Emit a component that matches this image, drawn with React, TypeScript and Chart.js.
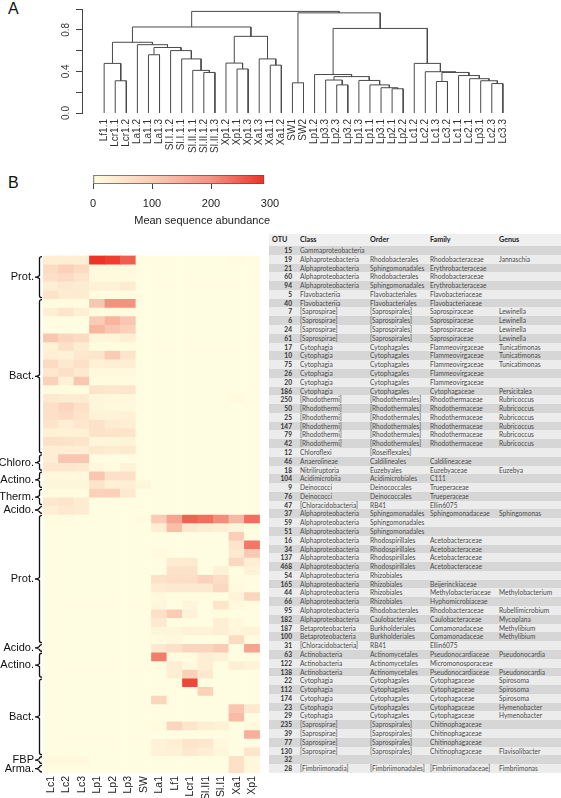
import React, { useEffect, useRef } from 'react';
import { Chart, registerables } from 'chart.js';
Chart.register(...registerables);

// ---------- Dendrogram (panel A) ----------
const leafLabels = [
  'Lf1.1', 'Lcr1.1', 'Lcr1.2', 'La1.2', 'La1.1', 'La1.3', 'Sl.I.1.2', 'Sl.I.1.1', 'Sl.II.1.1', 'Sl.II.1.2',
  'Sl.II.1.3', 'Xp1.2', 'Xp1.1', 'Xp1.3', 'Xa1.3', 'Xa1.1', 'Xa1.2', 'SW1', 'SW2', 'Lp1.2', 'Lp3.3',
  'Lp2.3', 'Lp3.2', 'Lp1.3', 'Lp1.1', 'Lp3.1', 'Lp2.1', 'Lp2.2', 'Lc1.2', 'Lc2.2', 'Lc1.3', 'Lc3.2',
  'Lc1.1', 'Lc2.1', 'Lp3.1', 'Lc2.3', 'Lc3.3',
];
// R-style merges: negative = leaf (1-based), positive = earlier merge (1-based); third = height
const merges: [number, number, number][] = [
  [-2, -3, 0.31], [-1, 1, 0.477], [-5, -6, 0.56], [-10, -11, 0.39], [-9, 4, 0.41], [-8, 5, 0.52],
  [-7, 6, 0.6], [3, 7, 0.63], [-4, 8, 0.657], [2, 9, 0.68], [-13, -14, 0.423], [-12, 11, 0.48],
  [-16, -17, 0.46], [-15, 13, 0.52], [12, 14, 0.737], [10, 15, 0.827], [-18, -19, 0.29],
  [-22, -23, 0.27], [-21, 18, 0.317], [-27, -28, 0.233], [-26, 20, 0.243], [-25, 21, 0.27],
  [-24, 22, 0.313], [19, 23, 0.35], [-20, 24, 0.37], [-31, -32, 0.303], [-36, -37, 0.283],
  [-35, 27, 0.31], [-34, 28, 0.33], [-33, 29, 0.36], [26, 30, 0.39], [-30, 31, 0.397],
  [-29, 32, 0.477], [25, 33, 0.813], [17, 34, 0.963], [16, 35, 0.977],
];
const dendroTicks = [0, 0.2, 0.4, 0.6, 0.8, 1.0];
const dendroLabelled = ['0.0', '0.4', '0.8'];

// ---------- Heatmap (panel B) ----------
const sampleCols = ['Lc1', 'Lc2', 'Lc3', 'Lp1', 'Lp2', 'Lp3', 'SW', 'La1', 'Lf1', 'Lcr1', 'Sl.II1', 'Sl.I1', 'Xa1', 'Xp1'];
const groupNames = ['Prot.', 'Bact.', 'Chloro.', 'Actino.', 'Therm.', 'Acido.', 'Prot.', 'Acido.', 'Actino.', 'Bact.', 'FBP', 'Arma.'];
const groupSizes = [5, 18, 2, 2, 2, 1, 15, 1, 3, 9, 1, 1];
// columns: Lc1 Lc2 Lc3 Lp1 Lp2 Lp3 SW La1 Lf1 Lcr1 Sl.II1 Sl.I1 Xa1 Xp1
const abundance: number[][] = [
  [30, 30, 30, 290, 280, 250, 3, 3, 0, 0, 0, 0, 5, 0],
  [70, 90, 70, 8, 8, 8, 0, 0, 0, 0, 0, 0, 0, 0],
  [60, 70, 50, 8, 8, 8, 0, 0, 0, 0, 0, 0, 0, 0],
  [30, 40, 35, 25, 25, 35, 0, 0, 0, 0, 0, 0, 0, 0],
  [55, 35, 35, 5, 5, 5, 0, 0, 0, 0, 0, 0, 0, 0],
  [5, 5, 5, 110, 200, 200, 0, 0, 0, 0, 0, 0, 0, 0],
  [30, 50, 30, 5, 5, 5, 0, 0, 0, 0, 0, 0, 0, 0],
  [0, 0, 0, 100, 140, 110, 0, 0, 0, 0, 0, 0, 0, 0],
  [0, 0, 0, 140, 110, 90, 0, 0, 0, 0, 0, 0, 0, 0],
  [110, 80, 70, 15, 15, 30, 0, 0, 0, 0, 0, 0, 0, 0],
  [25, 60, 35, 5, 5, 5, 0, 0, 0, 0, 0, 0, 0, 0],
  [30, 25, 45, 50, 100, 50, 0, 0, 0, 0, 0, 0, 0, 0],
  [70, 40, 60, 25, 30, 30, 0, 0, 0, 0, 0, 0, 0, 0],
  [45, 60, 40, 10, 10, 10, 0, 0, 0, 0, 0, 0, 0, 0],
  [90, 25, 110, 5, 5, 5, 0, 0, 0, 0, 0, 0, 0, 0],
  [5, 5, 5, 50, 45, 50, 0, 0, 0, 0, 0, 0, 0, 0],
  [40, 35, 35, 15, 10, 10, 0, 0, 0, 0, 0, 0, 8, 0],
  [60, 80, 60, 15, 10, 10, 0, 0, 0, 0, 0, 0, 0, 0],
  [60, 70, 50, 25, 20, 25, 0, 0, 0, 0, 0, 0, 0, 0],
  [50, 30, 45, 55, 35, 30, 0, 0, 0, 0, 0, 0, 0, 0],
  [25, 25, 25, 55, 50, 50, 0, 0, 0, 0, 0, 0, 0, 0],
  [60, 55, 50, 15, 15, 20, 0, 0, 0, 0, 0, 0, 0, 0],
  [30, 30, 30, 40, 35, 40, 0, 0, 0, 0, 0, 0, 0, 0],
  [30, 110, 110, 0, 0, 0, 0, 0, 0, 0, 0, 0, 0, 0],
  [45, 45, 40, 10, 5, 20, 0, 0, 0, 0, 0, 0, 0, 0],
  [10, 10, 10, 110, 60, 60, 0, 0, 0, 0, 0, 0, 0, 0],
  [15, 15, 15, 50, 25, 30, 15, 0, 0, 0, 0, 0, 0, 0],
  [5, 5, 5, 90, 90, 40, 0, 0, 0, 0, 0, 0, 0, 0],
  [45, 50, 35, 0, 0, 0, 0, 0, 0, 0, 0, 0, 0, 0],
  [30, 40, 35, 0, 0, 0, 0, 0, 0, 0, 0, 0, 0, 0],
  [5, 5, 0, 0, 0, 0, 5, 100, 170, 245, 235, 205, 135, 235],
  [0, 0, 0, 0, 0, 0, 0, 30, 125, 40, 32, 28, 15, 5],
  [0, 0, 0, 0, 0, 0, 0, 0, 0, 0, 0, 0, 95, 0],
  [0, 0, 0, 0, 0, 0, 0, 0, 0, 0, 0, 0, 50, 225],
  [0, 0, 0, 0, 0, 0, 0, 8, 0, 0, 0, 0, 40, 105],
  [0, 0, 0, 0, 0, 0, 0, 0, 35, 38, 0, 0, 75, 30],
  [0, 0, 0, 0, 0, 0, 0, 0, 55, 55, 3, 25, 0, 22],
  [0, 0, 0, 0, 0, 0, 0, 55, 65, 65, 85, 65, 5, 0],
  [0, 0, 0, 0, 0, 0, 0, 35, 40, 40, 40, 75, 8, 0],
  [0, 0, 0, 0, 0, 0, 0, 10, 5, 5, 5, 0, 20, 80],
  [0, 0, 0, 0, 0, 0, 0, 15, 0, 15, 0, 50, 10, 5],
  [0, 0, 0, 0, 0, 0, 0, 60, 100, 20, 0, 5, 0, 0],
  [0, 0, 0, 0, 0, 0, 0, 40, 0, 0, 0, 30, 10, 0],
  [0, 0, 0, 0, 0, 0, 0, 15, 15, 20, 20, 30, 15, 20],
  [0, 0, 0, 0, 0, 0, 0, 5, 10, 0, 0, 0, 70, 5],
  [0, 0, 0, 0, 0, 0, 0, 40, 60, 80, 80, 100, 0, 170],
  [0, 0, 0, 0, 0, 0, 0, 220, 5, 5, 30, 20, 0, 5],
  [0, 0, 0, 0, 0, 0, 0, 5, 30, 10, 30, 0, 30, 20],
  [0, 0, 0, 0, 0, 0, 0, 0, 30, 90, 40, 0, 0, 0],
  [0, 0, 0, 0, 0, 0, 0, 0, 0, 270, 0, 0, 0, 0],
  [0, 0, 0, 0, 0, 0, 0, 0, 0, 0, 90, 0, 0, 0],
  [0, 0, 0, 0, 0, 0, 0, 80, 0, 0, 0, 0, 0, 0],
  [0, 0, 0, 0, 0, 0, 0, 0, 0, 0, 0, 0, 110, 40],
  [0, 0, 0, 0, 0, 0, 0, 0, 0, 0, 0, 0, 130, 0],
  [0, 0, 0, 0, 0, 0, 0, 5, 80, 50, 30, 25, 0, 10],
  [0, 0, 0, 0, 0, 0, 0, 0, 0, 0, 0, 0, 0, 150],
  [0, 0, 0, 0, 0, 0, 0, 20, 30, 50, 45, 10, 0, 0],
  [0, 0, 0, 0, 0, 0, 0, 20, 25, 40, 30, 15, 0, 50],
  [10, 10, 10, 0, 0, 0, 0, 0, 0, 0, 0, 0, 60, 10],
  [0, 0, 0, 0, 0, 0, 0, 0, 0, 0, 0, 0, 60, 10],
];

// ---------- Colour scale ----------
const scaleTicks = [0, 100, 200, 300];
const scaleMax = 290;
const paletteValues = [0, 100, 200, 290];
const paletteRGB: [number, number, number][] = [[255, 253, 225], [250, 204, 182], [244, 146, 128], [238, 50, 38]];

// ---------- Table ----------
const otuIds = [15, 19, 21, 60, 94, 5, 40, 7, 6, 24, 61, 17, 10, 75, 26, 20, 186, 250, 50, 25, 147, 79, 42, 12, 46, 18, 104, 9, 76, 47,
  37, 59, 51, 16, 34, 137, 468, 54, 165, 44, 66, 95, 182, 187, 100, 31, 63, 122, 138, 22, 112, 174, 23, 29, 235, 39, 77, 130, 32, 28];
const A = 'Alphaproteobacteria';
const otuClass = ['Gammaproteobacteria', A, A, A, A, 'Flavobacteriia', 'Flavobacteriia', '[Saprospirae]', '[Saprospirae]', '[Saprospirae]',
  '[Saprospirae]', 'Cytophagia', 'Cytophagia', 'Cytophagia', 'Cytophagia', 'Cytophagia', 'Cytophagia', '[Rhodothermi]', '[Rhodothermi]',
  '[Rhodothermi]', '[Rhodothermi]', '[Rhodothermi]', '[Rhodothermi]', 'Chloroflexi', 'Anaerolineae', 'Nitriliruptoria', 'Acidimicrobiia',
  'Deinococci', 'Deinococci', '[Chloracidobacteria]', A, A, A, A, A, A, A, A, A, A, A, A, A, 'Betaproteobacteria', 'Betaproteobacteria',
  '[Chloracidobacteria]', 'Actinobacteria', 'Actinobacteria', 'Actinobacteria', 'Cytophagia', 'Cytophagia', 'Cytophagia', 'Cytophagia',
  'Cytophagia', '[Saprospirae]', '[Saprospirae]', '[Saprospirae]', '[Saprospirae]', '', '[Fimbriimonadia]'];
const otuOrder = ['', 'Rhodobacterales', 'Sphingomonadales', 'Rhodobacterales', 'Sphingomonadales', 'Flavobacteriales', 'Flavobacteriales',
  '[Saprospirales]', '[Saprospirales]', '[Saprospirales]', '[Saprospirales]', 'Cytophagales', 'Cytophagales', 'Cytophagales', 'Cytophagales',
  'Cytophagales', 'Cytophagales', '[Rhodothermales]', '[Rhodothermales]', '[Rhodothermales]', '[Rhodothermales]', '[Rhodothermales]',
  '[Rhodothermales]', '[Roseiflexales]', 'Caldilineales', 'Euzebyales', 'Acidimicrobiales', 'Deinococcales', 'Deinococcales', 'RB41',
  'Sphingomonadales', 'Sphingomonadales', 'Sphingomonadales', 'Rhodospirillales', 'Rhodospirillales', 'Rhodospirillales', 'Rhodospirillales',
  'Rhizobiales', 'Rhizobiales', 'Rhizobiales', 'Rhizobiales', 'Rhodobacterales', 'Caulobacterales', 'Burkholderiales', 'Burkholderiales',
  'RB41', 'Actinomycetales', 'Actinomycetales', 'Actinomycetales', 'Cytophagales', 'Cytophagales', 'Cytophagales', 'Cytophagales',
  'Cytophagales', '[Saprospirales]', '[Saprospirales]', '[Saprospirales]', '[Saprospirales]', '', '[Fimbriimonadales]'];
const otuFamily = ['', 'Rhodobacteraceae', 'Erythrobacteraceae', 'Rhodobacteraceae', 'Erythrobacteraceae', 'Flavobacteriaceae',
  'Flavobacteriaceae', 'Saprospiraceae', 'Saprospiraceae', 'Saprospiraceae', 'Saprospiraceae', 'Flammeovirgaceae', 'Flammeovirgaceae',
  'Flammeovirgaceae', 'Flammeovirgaceae', 'Flammeovirgaceae', 'Cytophagaceae', 'Rhodothermaceae', 'Rhodothermaceae', 'Rhodothermaceae',
  'Rhodothermaceae', 'Rhodothermaceae', 'Rhodothermaceae', '', 'Caldilineaceae', 'Euzebyaceae', 'C111', 'Trueperaceae', 'Trueperaceae',
  'Ellin6075', 'Sphingomonadaceae', '', '', 'Acetobacteraceae', 'Acetobacteraceae', 'Acetobacteraceae', 'Acetobacteraceae', '',
  'Beijerinckiaceae', 'Methylobacteriaceae', 'Hyphomicrobiaceae', 'Rhodobacteraceae', 'Caulobacteraceae', 'Comamonadaceae',
  'Comamonadaceae', 'Ellin6075', 'Pseudonocardiaceae', 'Micromonosporaceae', 'Pseudonocardiaceae', 'Cytophagaceae', 'Cytophagaceae',
  'Cytophagaceae', 'Cytophagaceae', 'Cytophagaceae', 'Chitinophagaceae', 'Chitinophagaceae', 'Chitinophagaceae', 'Chitinophagaceae',
  '', '[Fimbriimonadaceae]'];
const otuGenus = ['', 'Jannaschia', '', '', '', '', '', 'Lewinella', 'Lewinella', 'Lewinella', 'Lewinella', 'Tunicatimonas',
  'Tunicatimonas', 'Tunicatimonas', '', '', 'Persicitalea', 'Rubricoccus', 'Rubricoccus', 'Rubricoccus', 'Rubricoccus', 'Rubricoccus',
  'Rubricoccus', '', '', 'Euzebya', '', '', '', '', 'Sphingomonas', '', '', '', '', '', '', '', '', 'Methylobacterium', '',
  'Rubellimicrobium', 'Mycoplana', 'Methylibium', 'Methylibium', '', 'Pseudonocardia', '', 'Pseudonocardia', 'Spirosoma', 'Spirosoma',
  'Spirosoma', 'Hymenobacter', 'Hymenobacter', '', '', '', 'Flavisolibacter', '', 'Fimbriimonas'];
const tableHeader = ['OTU', 'Class', 'Order', 'Family', 'Genus'];

const FONT = '"Liberation Sans", Arial, sans-serif';

function colorFor(v: number): string {
  const x = Math.max(0, Math.min(scaleMax, v));
  let i = 0;
  while (i < paletteValues.length - 2 && x > paletteValues[i + 1]) i++;
  const t = (x - paletteValues[i]) / (paletteValues[i + 1] - paletteValues[i]);
  const a = paletteRGB[i], b = paletteRGB[i + 1];
  const c = a.map((ai, k) => Math.round(ai + (b[k] - ai) * t));
  return `rgb(${c[0]},${c[1]},${c[2]})`;
}

function dendroPoints() {
  const centers: number[] = [];
  const heights: number[] = [];
  const pos = (r: number): [number, number] => (r < 0 ? [-r - 1, 0] : [centers[r - 1], heights[r - 1]]);
  const pts: { x: number; y: number | null }[] = [];
  merges.forEach(([a, b, h], i) => {
    const [xa, ha] = pos(a);
    const [xb, hb] = pos(b);
    pts.push({ x: xa, y: ha }, { x: xa, y: h }, { x: xb, y: h }, { x: xb, y: hb }, { x: xb, y: null });
    centers[i] = (xa + xb) / 2;
    heights[i] = h;
  });
  return pts;
}

function makeDendro(canvas: HTMLCanvasElement) {
  return new Chart(canvas, {
    type: 'scatter',
    data: {
      datasets: [{
        data: dendroPoints() as any,
        showLine: true,
        borderColor: '#4a4a4a',
        borderWidth: 1,
        pointRadius: 0,
        spanGaps: false,
        tension: 0,
      }],
    },
    options: {
      animation: false,
      responsive: false,
      events: [],
      layout: { padding: { left: 52, right: 36, top: 5, bottom: 0 } },
      plugins: { legend: { display: false }, tooltip: { enabled: false } },
      scales: {
        x: {
          type: 'linear', min: -2, max: 38,
          afterFit: (s: any) => { s.height = 52; },
          afterBuildTicks: (s: any) => { s.ticks = leafLabels.map((_, i) => ({ value: i })); },
          grid: { display: false, drawTicks: false },
          border: { display: false },
          ticks: {
            autoSkip: false, minRotation: 90, maxRotation: 90, padding: 6,
            font: { family: FONT, size: 10 }, color: '#333',
            callback: (_v: any, i: number) => leafLabels[i],
          },
        },
        y: {
          type: 'linear', min: 0, max: 1,
          afterFit: (s: any) => { s.width = 30; },
          afterBuildTicks: (s: any) => { s.ticks = dendroTicks.map((v) => ({ value: v })); },
          grid: { drawOnChartArea: false, drawTicks: true, tickLength: 6, color: '#444' },
          border: { display: true, color: '#444' },
          ticks: {
            autoSkip: false, minRotation: 90, maxRotation: 90, padding: 3, crossAlign: 'center',
            font: { family: FONT, size: 10 }, color: '#333',
            callback: (v: any) => { const s = Number(v).toFixed(1); return dendroLabelled.includes(s) ? s : ''; },
          },
        },
      },
    } as any,
  });
}

function makeColorbar(canvas: HTMLCanvasElement) {
  return new Chart(canvas, {
    type: 'bar',
    data: {
      labels: [''],
      datasets: [{
        data: [[0, scaleMax]] as any,
        backgroundColor: (c: any) => {
          const ch = c.chart;
          if (!ch.chartArea) return colorFor(0);
          const x0 = ch.scales.x.getPixelForValue(0);
          const x1 = ch.scales.x.getPixelForValue(scaleMax);
          const g = ch.ctx.createLinearGradient(x0, 0, x1, 0);
          paletteValues.forEach((v, i) => g.addColorStop(v / scaleMax, `rgb(${paletteRGB[i].join(',')})`));
          return g;
        },
        borderColor: '#555',
        borderWidth: 1,
        borderSkipped: false,
        barPercentage: 1,
        categoryPercentage: 1,
      }],
    },
    options: {
      animation: false,
      responsive: false,
      events: [],
      indexAxis: 'y',
      layout: { padding: { left: 93, right: 30, top: 15, bottom: 0 } },
      plugins: { legend: { display: false }, tooltip: { enabled: false } },
      scales: {
        x: {
          type: 'linear', min: 0, max: 300,
          afterFit: (s: any) => { s.height = 46; },
          afterBuildTicks: (s: any) => { s.ticks = scaleTicks.map((v) => ({ value: v })); },
          grid: {
            drawOnChartArea: false, drawTicks: true, tickLength: 5,
            color: (c: any) => (c.tick && c.tick.value > scaleMax ? 'rgba(0,0,0,0)' : '#444'),
          },
          border: { display: false },
          ticks: { padding: 8, font: { family: FONT, size: 11 }, color: '#222' },
          title: {
            display: true, text: 'Mean sequence abundance', align: 'end',
            font: { family: FONT, size: 11 }, color: '#222', padding: { top: 2, bottom: 2 },
          },
        },
        y: { display: false },
      },
    } as any,
  });
}

function groupRanges() {
  const out: { name: string; start: number; end: number }[] = [];
  let s = 0;
  groupSizes.forEach((n, i) => { out.push({ name: groupNames[i], start: s, end: s + n }); s += n; });
  return out;
}

const bracketPlugin = {
  id: 'brackets',
  afterDraw(chart: any) {
    const { ctx, chartArea, scales } = chart;
    const x = chartArea.left - 3.5;
    ctx.save();
    ctx.strokeStyle = '#111';
    ctx.lineWidth = 1.3;
    groupRanges().forEach((g) => {
      const top = scales.y.getPixelForValue(g.start) + 1;
      const bot = scales.y.getPixelForValue(g.end) - 1;
      const mid = (top + bot) / 2;
      ctx.beginPath();
      ctx.moveTo(x + 2.5, top);
      ctx.quadraticCurveTo(x, top, x, top + 2);
      ctx.lineTo(x, mid - 1.5);
      ctx.lineTo(x - 2.5, mid);
      ctx.lineTo(x, mid + 1.5);
      ctx.lineTo(x, bot - 2);
      ctx.quadraticCurveTo(x, bot, x + 2.5, bot);
      ctx.stroke();
      ctx.beginPath();
      ctx.moveTo(x - 2.5, mid);
      ctx.lineTo(x - 4.5, mid);
      ctx.stroke();
    });
    ctx.restore();
  },
};

function makeHeatmap(canvas: HTMLCanvasElement) {
  const groups = groupRanges();
  return new Chart(canvas, {
    type: 'bar',
    data: {
      labels: sampleCols,
      datasets: abundance.map((row, r) => ({
        data: row.map(() => [r, r + 1]) as any,
        backgroundColor: row.map(colorFor),
        borderWidth: 0,
        barPercentage: 1,
        categoryPercentage: 1,
        grouped: false,
      })),
    },
    options: {
      animation: false,
      responsive: false,
      events: [],
      layout: { padding: { left: 0, right: 7, top: 6, bottom: 0 } },
      plugins: { legend: { display: false }, tooltip: { enabled: false } },
      scales: {
        x: {
          afterFit: (s: any) => { s.height = 25; },
          grid: { display: false, drawTicks: false },
          border: { display: false },
          ticks: {
            autoSkip: false, minRotation: 90, maxRotation: 90, padding: 3,
            font: { family: FONT, size: 10.5 }, color: '#222',
          },
        },
        y: {
          type: 'linear', min: 0, max: abundance.length, reverse: true,
          afterFit: (s: any) => { s.width = 43; },
          afterBuildTicks: (s: any) => { s.ticks = groups.map((g) => ({ value: (g.start + g.end) / 2 })); },
          grid: { display: false, drawTicks: false },
          border: { display: false },
          ticks: {
            autoSkip: false, padding: 9,
            font: { family: FONT, size: 11 }, color: '#111',
            callback: (_v: any, i: number) => groups[i].name,
          },
        },
      },
    } as any,
    plugins: [bracketPlugin],
  });
}

const colLeft = [0, 31, 101, 161, 230];

function Table() {
  const rowH = 527 / otuIds.length;
  const cell = (text: string | number, i: number, bold: boolean) => (
    <span
      key={i}
      style={{
        position: 'absolute',
        left: i === 0 ? 0 : colLeft[i],
        width: i === 0 ? 23 : undefined,
        textAlign: i === 0 ? 'right' : 'left',
        whiteSpace: 'nowrap',
        fontWeight: bold ? 700 : 400,
        color: bold ? '#333' : '#4a4a4a',
      }}
    >
      {text}
    </span>
  );
  return (
    <div style={{ position: 'absolute', left: 269, top: 234, width: 292, fontFamily: 'Lato, "Open Sans", sans-serif', fontSize: 6.6 }}>
      <div style={{ position: 'relative', height: 12, lineHeight: '12px', background: '#efefef', fontSize: 7.2 }}>
        {tableHeader.map((h, i) => (
          <span key={i} style={{ position: 'absolute', left: i === 0 ? 3 : colLeft[i], fontWeight: 700, color: '#222' }}>{h}</span>
        ))}
      </div>
      {otuIds.map((id, r) => (
        <div key={r} style={{ position: 'relative', height: rowH, lineHeight: `${rowH}px`, background: r % 2 === 0 ? '#d6d6d6' : '#ececec' }}>
          {cell(id, 0, true)}
          {cell(otuClass[r], 1, false)}
          {cell(otuOrder[r], 2, false)}
          {cell(otuFamily[r], 3, false)}
          {cell(otuGenus[r], 4, false)}
        </div>
      ))}
    </div>
  );
}

export default function App() {
  const dRef = useRef<HTMLCanvasElement>(null);
  const cRef = useRef<HTMLCanvasElement>(null);
  const hRef = useRef<HTMLCanvasElement>(null);
  useEffect(() => {
    document.body.style.margin = '0';
    const charts = [makeDendro(dRef.current!), makeColorbar(cRef.current!), makeHeatmap(hRef.current!)];
    return () => charts.forEach((c) => c.destroy());
  }, []);
  return (
    <div style={{ position: 'relative', width: 561, height: 798, overflow: 'hidden', background: '#fff', fontFamily: FONT }}>
      <div style={{ position: 'absolute', left: 8, top: 1, fontSize: 16, lineHeight: '16px', color: '#111' }}>A</div>
      <canvas ref={dRef} width={561} height={165} style={{ position: 'absolute', left: 0, top: 0 }} />
      <div style={{ position: 'absolute', left: 8, top: 175, fontSize: 16, lineHeight: '16px', color: '#111' }}>B</div>
      <canvas ref={cRef} width={300} height={70} style={{ position: 'absolute', left: 0, top: 160 }} />
      <canvas ref={hRef} width={268} height={558} style={{ position: 'absolute', left: 0, top: 240 }} />
      <Table />
    </div>
  );
}
